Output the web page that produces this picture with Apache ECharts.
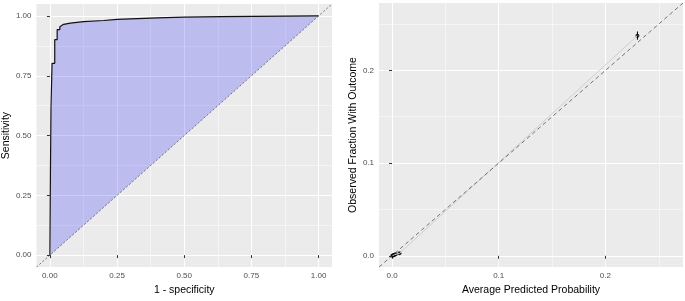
<!DOCTYPE html>
<html>
<head>
<meta charset="utf-8">
<script src="https://cdn.jsdelivr.net/npm/echarts@6/dist/echarts.min.js"></script>
<style>
html,body{margin:0;padding:0;background:#fff;}
#chart{width:685px;height:301px;}
</style>
</head>
<body>
<div id="chart"></div>
<script>
// ROC curve (1 - specificity, sensitivity)
const rocFpr = [0, 0.002, 0.002, 0.004, 0.004, 0.008, 0.008, 0.018, 0.018, 0.027, 0.027, 0.037, 0.037, 0.051, 0.076, 0.125, 0.200, 0.250, 0.400, 0.500, 0.636, 0.636, 1.000];
const rocTpr = [0, 0, 0.345, 0.345, 0.612, 0.612, 0.802, 0.802, 0.901, 0.901, 0.943, 0.943, 0.955, 0.965, 0.970, 0.976, 0.981, 0.986, 0.992, 0.995, 0.997, 1.000, 1.000];
const rocTicks = [0, 0.25, 0.5, 0.75, 1];
const rocMinor = [0.125, 0.375, 0.625, 0.875];
const rocDiag = [-0.05, 1.05];

// Calibration plot
const calibPred = [0.0003, 0.0008, 0.0015, 0.0025, 0.0035, 0.0070, 0.2300];
const calibObs  = [0.0001, 0.0004, 0.0008, 0.0012, 0.0016, 0.0027, 0.2375];
const calibLow  = [0.0000, 0.0001, 0.0004, 0.0007, 0.0010, 0.0015, 0.2330];
const calibHigh = [0.0003, 0.0007, 0.0012, 0.0017, 0.0022, 0.0039, 0.2420];
const calibTicks = [0, 0.1, 0.2];
const calibMinor = [0.05, 0.15, 0.25];
const calibDiag = [-0.0122, 0.2727];

const chart = echarts.init(document.getElementById('chart'), null, {renderer: 'canvas'});
const FONT = 'Liberation Sans, Arial, sans-serif';

function majorAxis(grid, min, max, ticks, digits, name, nameGap, isY) {
  return {
    type: 'value', gridIndex: grid, min: min, max: max,
    name: name, nameLocation: 'middle', nameGap: nameGap,
    nameTextStyle: {color: '#000', fontSize: 10.5, fontFamily: FONT},
    axisLine: {show: false},
    axisTick: {show: true, customValues: ticks, length: 3, lineStyle: {color: '#333', width: 1}},
    axisLabel: {customValues: ticks, formatter: v => Number(v).toFixed(digits),
      color: '#4D4D4D', fontSize: 8, fontFamily: FONT, margin: 5},
    splitLine: {show: true, lineStyle: {color: '#fff', width: 1}}
  };
}
function minorAxis(grid, min, max, ticks) {
  return {
    type: 'value', gridIndex: grid, min: min, max: max,
    axisLine: {show: false},
    axisTick: {show: false, customValues: ticks},
    axisLabel: {show: false, customValues: ticks},
    splitLine: {show: true, lineStyle: {color: '#fff', width: 0.5}}
  };
}

const rocPts = rocFpr.map((x, i) => [x, rocTpr[i]]);
const calPts = calibPred.map((x, i) => [x, calibObs[i]]);

chart.setOption({
  animation: false,
  grid: [
    {left: 32, top: 4, width: 300, height: 271, show: true, backgroundColor: '#EBEBEB', borderWidth: 0},
    {left: 379, top: 3, width: 304, height: 271, show: true, backgroundColor: '#EBEBEB', borderWidth: 0}
  ],
  xAxis: [
    majorAxis(0, -0.05, 1.05, rocTicks, 2, '1 - specificity', 13, false),
    minorAxis(0, -0.05, 1.05, rocMinor),
    majorAxis(1, calibDiag[0], calibDiag[1], calibTicks, 1, 'Average Predicted Probability', 13, false),
    minorAxis(1, calibDiag[0], calibDiag[1], calibMinor)
  ],
  yAxis: [
    majorAxis(0, -0.05, 1.05, rocTicks, 2, 'Sensitivity', 24, true),
    minorAxis(0, -0.05, 1.05, rocMinor),
    majorAxis(1, calibDiag[0], calibDiag[1], calibTicks, 1, 'Observed Fraction With Outcome', 18, true),
    minorAxis(1, calibDiag[0], calibDiag[1], calibMinor)
  ],
  series: [
    {
      type: 'custom', xAxisIndex: 0, yAxisIndex: 0, data: [0], silent: true,
      renderItem: function (params, api) {
        const pts = rocPts.map(p => api.coord(p));
        return {type: 'polygon', shape: {points: pts}, style: {fill: 'rgba(0,0,255,0.2)'}};
      }
    },
    {
      type: 'line', xAxisIndex: 0, yAxisIndex: 0, data: rocDiag.map(v => [v, v]),
      showSymbol: false, lineStyle: {color: '#555', width: 0.8, type: [2, 2]}
    },
    {
      type: 'line', xAxisIndex: 0, yAxisIndex: 0, data: rocPts,
      showSymbol: false, lineStyle: {color: '#111', width: 1.2}
    },
    {
      type: 'line', xAxisIndex: 2, yAxisIndex: 2, data: calPts,
      showSymbol: false, lineStyle: {color: '#CFCFCF', width: 1}
    },
    {
      type: 'line', xAxisIndex: 2, yAxisIndex: 2, data: calibDiag.map(v => [v, v]),
      showSymbol: false, lineStyle: {color: '#555', width: 0.8, type: [4, 3]}
    },
    {
      type: 'custom', xAxisIndex: 2, yAxisIndex: 2,
      data: calibPred.map((x, i) => [x, calibLow[i], calibHigh[i]]),
      renderItem: function (params, api) {
        const a = api.coord([api.value(0), api.value(1)]);
        const b = api.coord([api.value(0), api.value(2)]);
        return {type: 'line', shape: {x1: a[0], y1: a[1], x2: b[0], y2: b[1]}, style: {stroke: '#000', lineWidth: 1}};
      }
    },
    {
      type: 'scatter', xAxisIndex: 2, yAxisIndex: 2, data: calPts,
      symbolSize: 4, itemStyle: {color: '#000'}
    }
  ]
});
</script>
</body>
</html>
